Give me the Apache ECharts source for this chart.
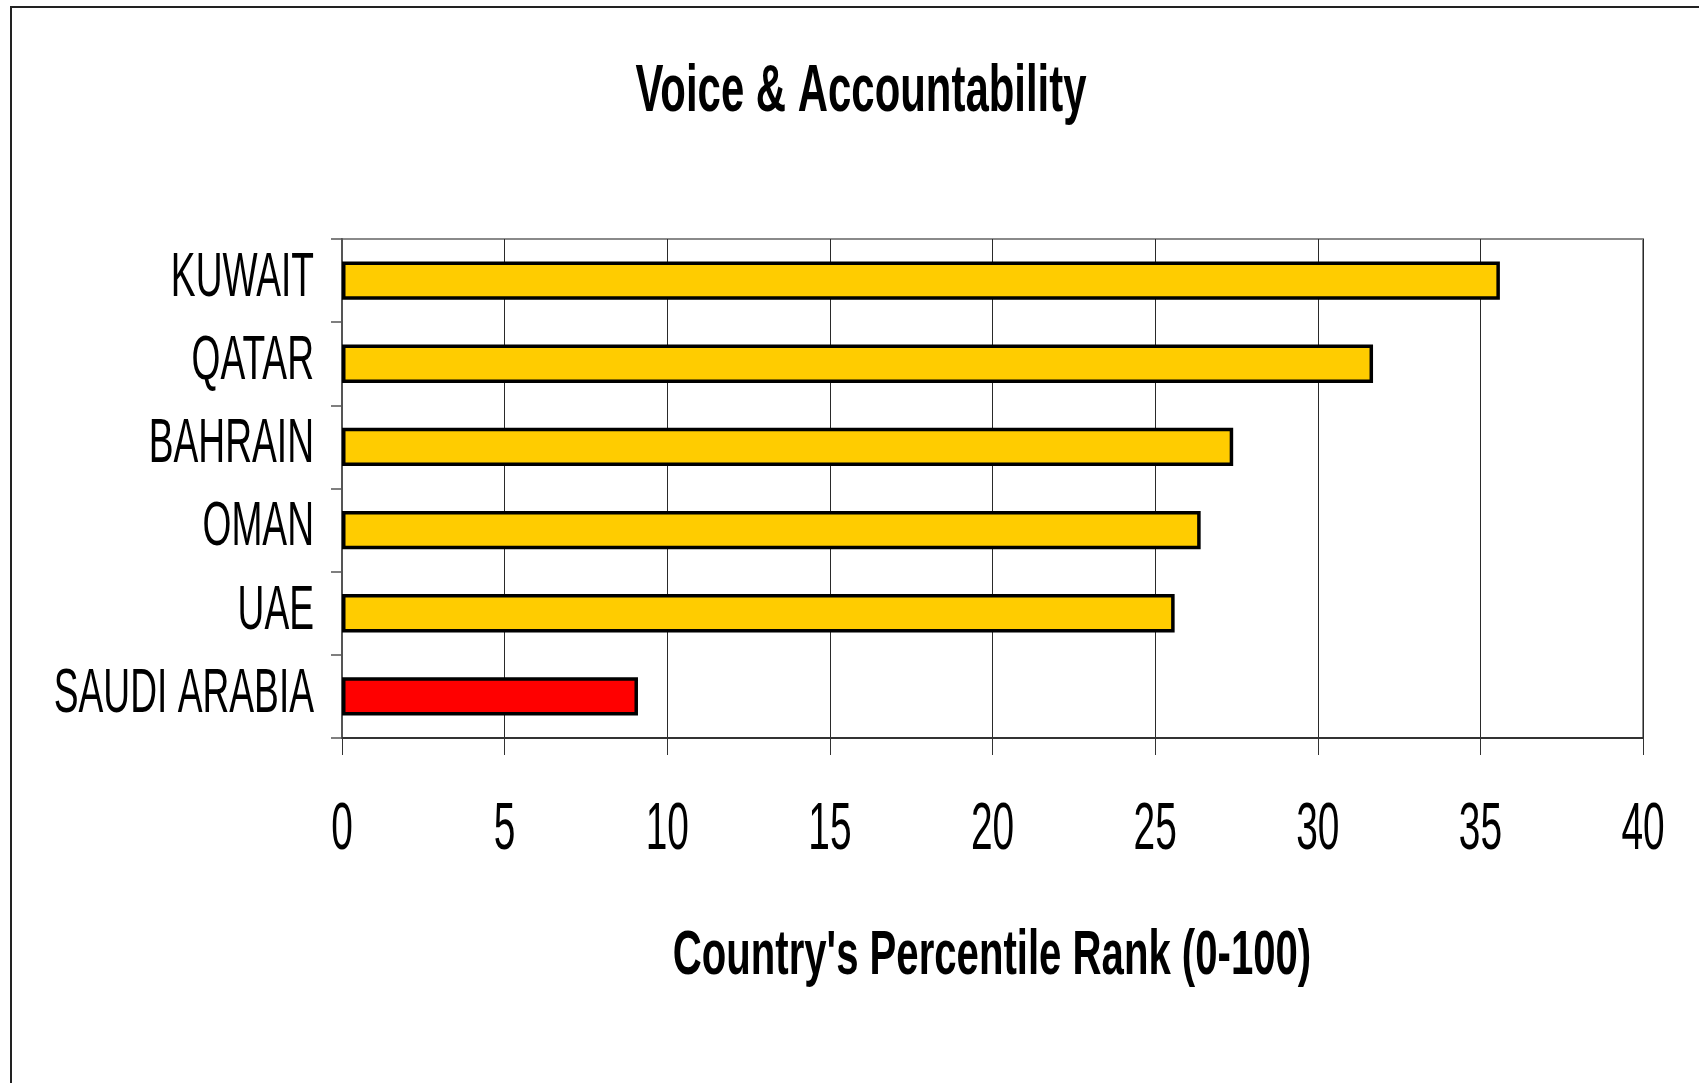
<!DOCTYPE html>
<html>
<head>
<meta charset="utf-8">
<script src="https://cdn.jsdelivr.net/npm/echarts@6/dist/echarts.min.js"></script>
<style>
  html, body { margin: 0; padding: 0; background: #fff; }
  #chart { width: 1699px; height: 1083px; }
</style>
</head>
<body>
<div id="chart"></div>
<script>
// Voice & Accountability percentile ranks, top to bottom
var countries = ['KUWAIT', 'QATAR', 'BAHRAIN', 'OMAN', 'UAE', 'SAUDI ARABIA'];
var percentileRank = [35.6, 31.7, 27.4, 26.4, 25.6, 9.1];
var xTicks = [0, 5, 10, 15, 20, 25, 30, 35, 40];
var highlighted = 'SAUDI ARABIA';

var titleText = 'Voice & Accountability';
var axisTitle = "Country's Percentile Rank (0-100)";

var FONT = '"Liberation Sans", Arial, sans-serif';
var GOLD = '#FFCC00';
var RED = '#FF0000';

var chart = echarts.init(document.getElementById('chart'), null, { renderer: 'canvas' });

var option = {
  backgroundColor: '#ffffff',
  animation: false,
  grid: {
    left: 342, top: 239, width: 1301, height: 499,
    show: true, borderColor: '#8a8a8a', borderWidth: 2, backgroundColor: 'transparent'
  },
  xAxis: {
    type: 'value',
    min: xTicks[0],
    max: xTicks[xTicks.length - 1],
    interval: 5,
    axisLine: { show: true, lineStyle: { color: '#333', width: 2 } },
    axisTick: { show: true, length: 17, lineStyle: { color: '#333', width: 1 } },
    axisLabel: { show: false },
    splitLine: { show: true, lineStyle: { color: '#2a2a2a', width: 1 } }
  },
  yAxis: {
    type: 'category',
    inverse: true,
    data: countries,
    axisLine: { show: true, lineStyle: { color: '#555', width: 2 } },
    axisTick: { show: true, length: 11, interval: 0, alignWithLabel: false, lineStyle: { color: '#555', width: 1.5 } },
    axisLabel: { show: false },
    splitLine: { show: false }
  },
  series: [{
    type: 'bar',
    data: percentileRank,
    barWidth: '46%',
    itemStyle: {
      color: function (p) { return p.name === highlighted ? RED : GOLD; },
      borderColor: '#000',
      borderWidth: 3.5
    }
  }]
};

chart.setOption(option);

// Text is set in a vertically tall, condensed face: scale the glyphs horizontally.
function label(text, x, y, size, bold, align, sx) {
  return {
    type: 'text',
    x: x, y: y,
    scaleX: sx, scaleY: 1,
    silent: true,
    style: {
      text: text,
      font: (bold ? 'bold ' : '') + size + 'px ' + FONT,
      fill: '#000',
      align: align,
      verticalAlign: 'middle'
    }
  };
}

var graphics = [];

// outer frame
graphics.push({
  type: 'rect',
  silent: true,
  shape: { x: 11, y: 7, width: 1800, height: 1200 },
  style: { fill: 'none', stroke: '#222', lineWidth: 2 }
});

// tick labels on the value axis
xTicks.forEach(function (v) {
  var px = chart.convertToPixel({ gridIndex: 0 }, [v, countries[0]]);
  graphics.push(label(String(v), px[0], 831, 67, false, 'center', 0.58));
});

// category labels
countries.forEach(function (c) {
  var py = chart.convertToPixel({ yAxisIndex: 0 }, c);
  graphics.push(label(c, 314, py - 2, 63, false, 'right', 0.59));
});

// chart title and axis title
graphics.push(label(titleText, 861, 93, 66, true, 'center', 0.635));
graphics.push(label(axisTitle, 992, 957, 63, true, 'center', 0.637));

chart.setOption({ graphic: graphics });
</script>
</body>
</html>
